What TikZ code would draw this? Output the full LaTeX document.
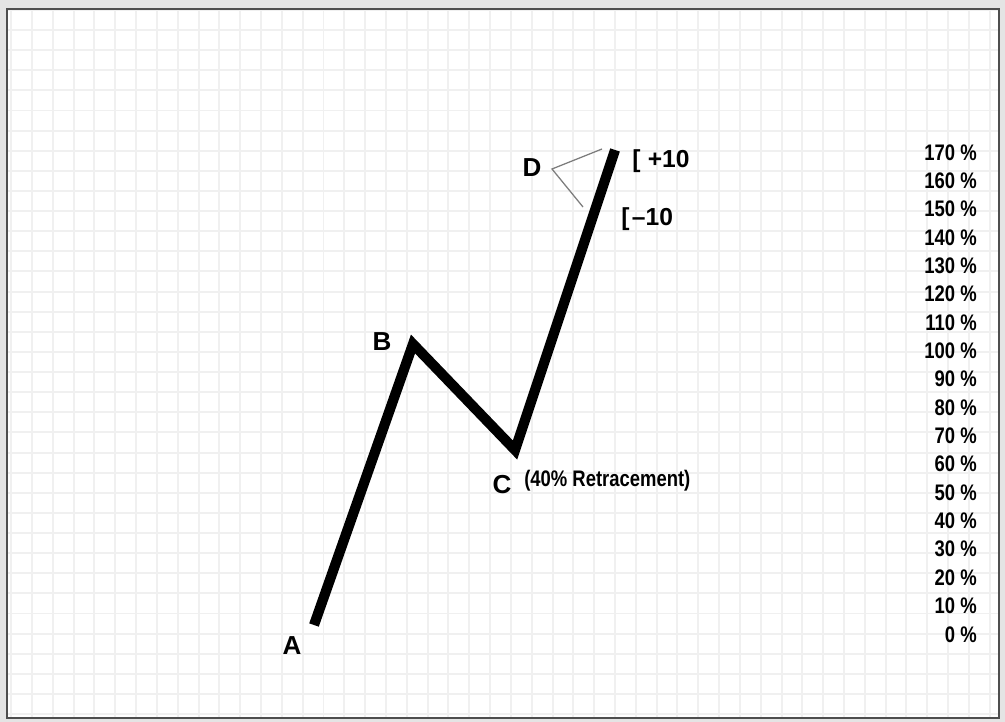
\documentclass[tikz,border=0pt]{standalone}
\usepackage{fontspec}
\setmainfont{Liberation Sans}
\newfontfamily\narrowfont[FakeStretch=0.82]{Liberation Sans}
\usetikzlibrary{positioning,calc}
\definecolor{PageGray}{RGB}{228,228,228}
\definecolor{FrameGray}{RGB}{78,78,78}
\definecolor{GridGray}{RGB}{240,240,240}
\definecolor{PinGray}{RGB}{125,125,125}
\tikzset{
  gridline/.style={draw=GridGray,line width=1.4pt},
  frame/.style={draw=FrameGray,line width=1.8pt},
  wave/.style={draw=black,line width=7.2pt,line join=miter},
  pin/.style={draw=PinGray,line width=0.9pt},
}
\tikzset{ptlab/.style={inner sep=0pt,anchor=base,font=\fontsize{18.5}{21}\selectfont\bfseries},
  band/.style={inner sep=0pt,anchor=base west,font=\fontsize{17.5}{20}\selectfont\bfseries},
  note/.style={inner sep=0pt,anchor=base west,font=\narrowfont\fontsize{16}{18}\selectfont\bfseries},
  pct/.style={inner sep=0pt,anchor=base east,font=\narrowfont\fontsize{16}{18}\selectfont\bfseries}}

\begin{document}
\begin{tikzpicture}[x=0.025cm,y=-0.025cm]
\fill[PageGray] (0,0) rectangle (1005,722);
\useasboundingbox (0,0) rectangle (1005,722);
\fill[white] (7,9) rectangle (999,718);
% grid
\foreach \k in {0,...,47}
  \draw[gridline] ({11.2+20.82*\k},9) -- ({11.2+20.82*\k},718);
\foreach \k in {0,...,35}
  \draw[gridline] (7,{9.9+20.12*\k}) -- (999,{9.9+20.12*\k});
\draw[frame] (7,9) rectangle (999,718);
% wave points
\coordinate (pA) at (314,625);
\coordinate (pB) at (413,344);
\coordinate (pC) at (515,450);
\coordinate (pD) at (615,150);
\coordinate (dv) at (552,169);
\coordinate (dup) at (602,149);
\coordinate (dlo) at (583,207);
\draw[wave] (pA) -- (pB) -- (pC) -- (pD);
\draw[pin] (dup) -- (dv) -- (dlo);
\node[ptlab] (labA) at (292,654) {A};
\node[ptlab] (labB) at (382,350) {B};
\node[ptlab] (labC) at (502,493) {C};
\node[ptlab] (labD) at (532,177) {D};
\node[band] (up) at (632,167) {[\hspace{0.3em}+10};
\node[band] (lo) at (621,225) {[\hspace{0.1em}--10};
\node[note] (retr) at (524,486) {(40\% Retracement)};
% percent scale
\foreach \i in {0,...,17}{
  \pgfmathtruncatemacro\pv{10*\i}
  \node[pct] (pct\i) at (977,{642-28.35*\i}) {\pv\ \%};
}
\end{tikzpicture}
\end{document}
